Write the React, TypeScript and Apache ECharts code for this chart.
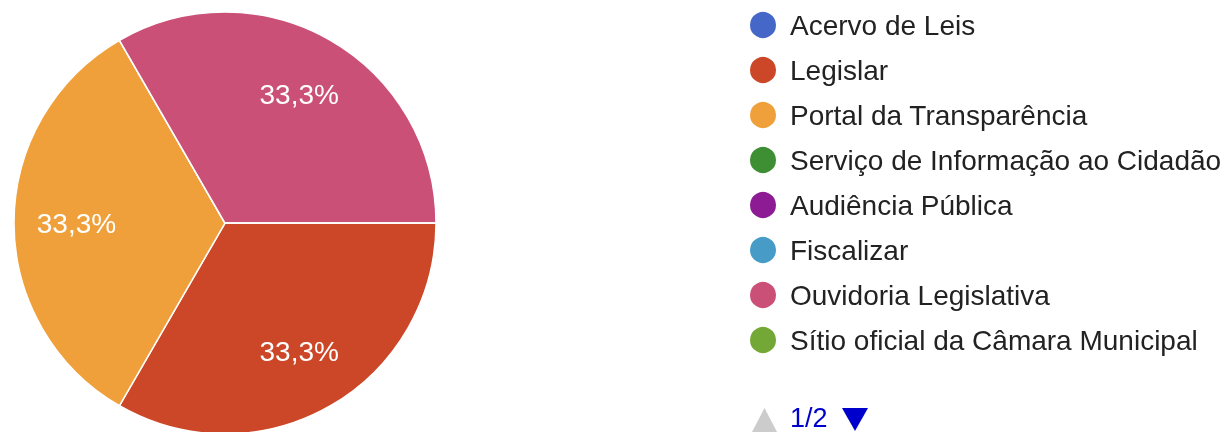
import React, { useEffect, useRef } from "react";
import * as echarts from "echarts";

const categories = [
  "Acervo de Leis",
  "Legislar",
  "Portal da Transparência",
  "Serviço de Informação ao Cidadão",
  "Audiência Pública",
  "Fiscalizar",
  "Ouvidoria Legislativa",
  "Sítio oficial da Câmara Municipal",
];
const values = [0, 1, 1, 0, 0, 0, 1, 0];
const colors = [
  "#4467c8",
  "#cc4727",
  "#f0a03a",
  "#3e8e33",
  "#8d1b93",
  "#469bc7",
  "#cb5077",
  "#74a836",
];
const pageText = "1/2";

const FONT = "'Liberation Sans', Arial, sans-serif";

export default function App() {
  const ref = useRef<HTMLDivElement>(null);

  useEffect(() => {
    if (!ref.current) return;
    const chart = echarts.init(ref.current, undefined, { renderer: "svg" });
    const data = categories.map((name, i) => ({
      name,
      value: values[i],
      itemStyle: { color: colors[i] },
    }));
    const fmt = (p: any) =>
      p.value > 0 ? `${p.percent.toFixed(1).replace(".", ",")}%` : "";
    chart.setOption({
      animation: false,
      color: colors,
      legend: {
        orient: "vertical",
        left: 743,
        top: 5,
        padding: 5,
        itemWidth: 44,
        itemHeight: 28,
        itemGap: 15,
        icon: "circle",
        selectedMode: false,
        data: categories,
        textStyle: {
          fontSize: 28,
          lineHeight: 28,
          color: "#222222",
          fontFamily: FONT,
        },
      },
      series: [
        {
          type: "pie",
          center: [225, 223],
          radius: [0, 211],
          startAngle: 0,
          clockwise: true,
          label: { show: false },
          labelLine: { show: false },
          itemStyle: { borderColor: "#ffffff", borderWidth: 1.5 },
          emphasis: { disabled: true },
          data,
        },
        {
          type: "pie",
          center: [225, 223],
          radius: [80, 211],
          startAngle: 0,
          clockwise: true,
          silent: true,
          legendHoverLink: false,
          itemStyle: { color: "rgba(0,0,0,0)", borderWidth: 0 },
          label: {
            show: true,
            position: "inside",
            formatter: fmt,
            color: "#ffffff",
            fontSize: 28,
            fontFamily: FONT,
          },
          labelLine: { show: false },
          emphasis: { disabled: true },
          data: categories.map((name, i) => ({
            name,
            value: values[i],
            itemStyle: { color: "rgba(0,0,0,0)" },
          })),
        },
      ],
      graphic: [
        {
          type: "polygon",
          silent: true,
          shape: { points: [[752, 432], [777, 432], [764.5, 408]] },
          style: { fill: "#cccccc" },
        },
        {
          type: "text",
          silent: true,
          x: 790,
          y: 418,
          style: {
            text: pageText,
            fill: "#0000cc",
            font: `27px ${FONT}`,
            verticalAlign: "middle",
            align: "left",
          },
        },
        {
          type: "polygon",
          silent: true,
          shape: { points: [[842, 408], [868, 408], [855, 431]] },
          style: { fill: "#0000cc" },
        },
      ],
    });
    return () => chart.dispose();
  }, []);

  return (
    <div
      ref={ref}
      style={{ position: "fixed", left: 0, top: 0, width: 1230, height: 432 }}
    />
  );
}
